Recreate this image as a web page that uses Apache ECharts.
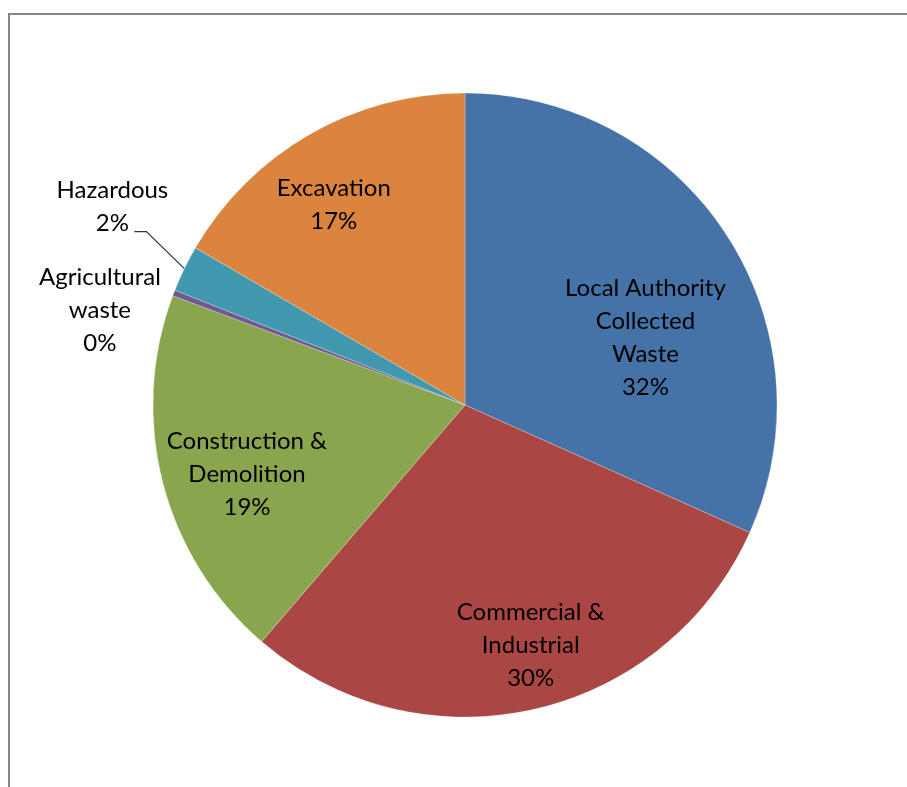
<!DOCTYPE html>
<html>
<head>
<meta charset="utf-8">
<script src="https://cdn.jsdelivr.net/npm/echarts@6/dist/echarts.min.js"></script>
<style>
  html, body { margin: 0; padding: 0; background: #fff; }
  #chart { width: 907px; height: 787px; }
</style>
</head>
<body>
<div id="chart"></div>
<script>
// Waste arisings by source (share of total)
const categories = [
  'Local Authority\nCollected\nWaste',
  'Commercial &\nIndustrial',
  'Construction &\nDemolition',
  'Agricultural\nwaste',
  'Hazardous',
  'Excavation'
];
const shares = [31.7, 29.6, 19.4, 0.3, 2.4, 16.6];
const colors = ['#4572A7', '#AA4643', '#89A54E', '#71588F', '#4198AF', '#DB843D'];

// slices whose labels sit outside the pie
const outsideLabels = ['Agricultural\nwaste', 'Hazardous'];

// label nudges relative to the library's default label placement
const labelNudge = [[47, 19], [31, 85], [-64, 30], [21, 23], [-72, -62], [-52, -62]];

const chart = echarts.init(document.getElementById('chart'), null, { renderer: 'canvas' });

const data = categories.map((name, i) => {
  const item = { name: name, value: shares[i], itemStyle: { color: colors[i] } };
  if (outsideLabels.includes(name)) {
    item.label = { position: 'outside' };
    item.labelLine = { show: name === 'Hazardous' };
  }
  return item;
});

chart.setOption({
  animation: false,
  backgroundColor: '#ffffff',
  graphic: [{
    type: 'rect',
    shape: { x: 9, y: 14, width: 1000, height: 1000 },
    style: { fill: 'none', stroke: '#878787', lineWidth: 2 },
    silent: true
  }],
  series: [{
    type: 'pie',
    center: [465, 405],
    radius: 312,
    startAngle: 90,
    clockwise: true,
    percentPrecision: 0,
    avoidLabelOverlap: false,
    itemStyle: { borderColor: 'rgba(255,255,255,0.25)', borderWidth: 1 },
    label: {
      show: true,
      position: 'inside',
      formatter: '{b}\n{d}%',
      fontFamily: 'Lato, "Open Sans", sans-serif',
      fontSize: 24,
      lineHeight: 33,
      color: '#000000',
      align: 'center'
    },
    labelLine: {
      length: 15,
      length2: 15,
      lineStyle: { color: '#333333', width: 1.2 }
    },
    labelLayout: function (p) {
      const n = labelNudge[p.dataIndex];
      const r = p.labelRect;
      const cx = r.x + r.width / 2;
      const cy = r.y + r.height / 2;
      if (categories[p.dataIndex] === 'Hazardous' && p.labelLinePoints) {
        const a = p.labelLinePoints[0];
        const b = [a[0] - 38, a[1] - 37];
        const c = [b[0] - 12, b[1]];
        return {
          x: a[0] + n[0], y: a[1] + n[1],
          align: 'center', verticalAlign: 'middle',
          labelLinePoints: [a, b, c]
        };
      }
      return { x: cx + n[0], y: cy + n[1], align: 'center', verticalAlign: 'middle' };
    },
    data: data
  }]
});
</script>
</body>
</html>
